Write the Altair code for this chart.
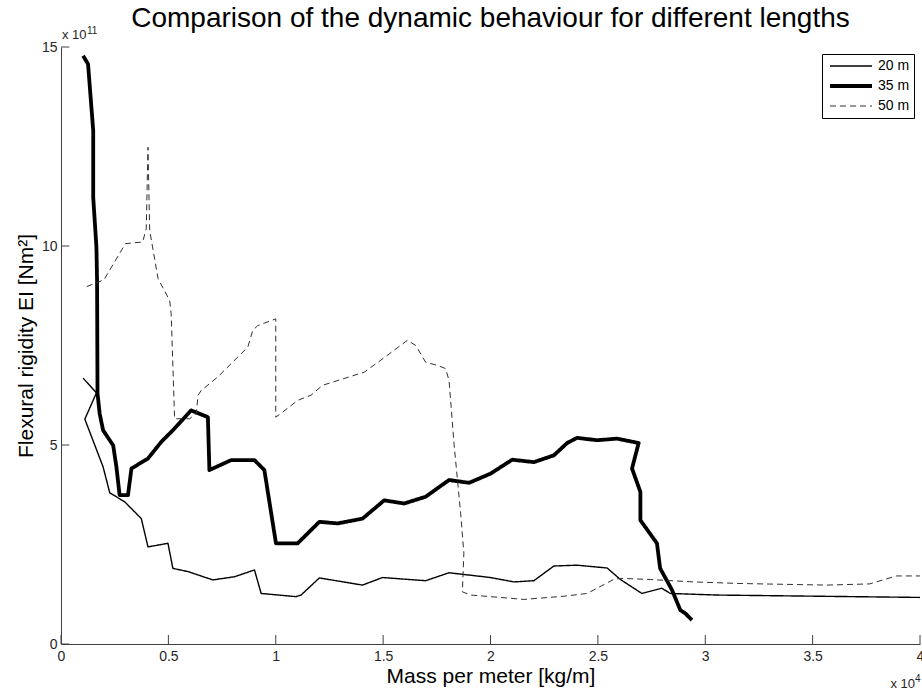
import altair as alt
import pandas as pd

# ---------------- data (x in 1e4 kg/m, y in 1e11 Nm^2) ----------------
series_names = ["20 m", "35 m", "50 m"]

x20 = [0.103, 0.165, 0.111, 0.196, 0.227, 0.297, 0.374, 0.405, 0.498, 0.521,
       0.591, 0.707, 0.808, 0.901, 0.932, 1.094, 1.118, 1.203, 1.404, 1.497,
       1.698, 1.807, 2.0, 2.109, 2.202, 2.295, 2.403, 2.543, 2.605, 2.705,
       2.798, 2.837, 3.054, 4.0]
y20 = [6.68, 6.31, 5.65, 4.45, 3.80, 3.57, 3.15, 2.44, 2.53, 1.90,
       1.82, 1.61, 1.69, 1.86, 1.27, 1.19, 1.23, 1.66, 1.48, 1.67,
       1.59, 1.79, 1.67, 1.56, 1.59, 1.96, 1.98, 1.91, 1.62, 1.27,
       1.40, 1.27, 1.23, 1.17]

x35 = [0.103, 0.126, 0.150, 0.150, 0.165, 0.168, 0.17, 0.18, 0.196, 0.243,
       0.258, 0.273, 0.312, 0.328, 0.405, 0.467, 0.521, 0.606, 0.684, 0.691,
       0.792, 0.901, 0.947, 1.001, 1.102, 1.164, 1.203, 1.288, 1.404, 1.505,
       1.598, 1.698, 1.807, 1.9, 2.0, 2.101, 2.202, 2.295, 2.357, 2.403,
       2.496, 2.589, 2.69, 2.659, 2.698, 2.698, 2.775, 2.79, 2.845, 2.884,
       2.907, 2.938]
y35 = [14.78, 14.57, 12.90, 11.22, 9.97, 9.10, 6.30, 5.79, 5.37, 4.99,
       4.45, 3.74, 3.74, 4.41, 4.66, 5.08, 5.37, 5.87, 5.70, 4.37,
       4.62, 4.62, 4.37, 2.53, 2.53, 2.86, 3.07, 3.03, 3.15, 3.61,
       3.53, 3.70, 4.12, 4.05, 4.28, 4.63, 4.57, 4.74, 5.05, 5.18,
       5.12, 5.16, 5.05, 4.41, 3.82, 3.11, 2.53, 1.90, 1.36, 0.85,
       0.77, 0.60]

x50 = [0.12, 0.20, 0.30, 0.38, 0.397, 0.405, 0.413, 0.452, 0.506, 0.513,
       0.529, 0.599, 0.63, 0.638, 0.653, 0.73, 0.87, 0.893, 0.916, 1.0,
       1.0, 1.033, 1.102, 1.164, 1.218, 1.412, 1.489, 1.613, 1.652, 1.698,
       1.753, 1.791, 1.807, 1.83, 1.861, 1.876, 1.869, 1.908, 2.0, 2.155,
       2.341, 2.45, 2.573, 2.605, 2.744, 2.945, 3.162, 3.565, 3.766, 3.89,
       4.0]
y50 = [8.98, 9.15, 10.06, 10.10, 10.43, 12.48, 10.39, 9.18, 8.63, 8.30,
       5.66, 5.66, 5.79, 6.25, 6.37, 6.71, 7.46, 7.88, 8.00, 8.17,
       5.70, 5.83, 6.12, 6.25, 6.50, 6.83, 7.13, 7.63, 7.50, 7.08,
       7.00, 6.92, 6.62, 5.04, 3.28, 2.28, 1.31, 1.23, 1.19, 1.12,
       1.20, 1.27, 1.62, 1.65, 1.62, 1.56, 1.52, 1.48, 1.51, 1.71,
       1.71]

x_tick_values = [0, 0.5, 1, 1.5, 2, 2.5, 3, 3.5, 4]
y_tick_values = [0, 5, 10, 15]
exponent_base = ["x 10"]
y_exponent_power = ["11"]
x_exponent_power = ["4"]
title_text = ["Comparison of the dynamic behaviour for different lengths"]

# ---------------- build table ----------------
rows = []
for name, xs, ys in ((series_names[0], x20, y20),
                     (series_names[1], x35, y35),
                     (series_names[2], x50, y50)):
    for i, (xv, yv) in enumerate(zip(xs, ys)):
        rows.append({"series": name, "mass": xv, "rigidity": yv, "step": i})
df = pd.DataFrame(rows)

FONT = "Liberation Sans"
AXIS_GREY = "#404040"
LABEL_GREY = "#262626"

x_scale = alt.Scale(domain=[0, 4], nice=False, zero=False)
y_scale = alt.Scale(domain=[0, 15], nice=False, zero=False)

x_axis = alt.Axis(values=x_tick_values, format="~g",
                  title="Mass per meter [kg/m]",
                  labelPadding=5, titlePadding=2, labelFlush=False)
y_axis = alt.Axis(values=y_tick_values, format="~g",
                  title="Flexural rigidity EI [Nm\u00b2]",
                  labelPadding=4, titlePadding=5)

legend = alt.Legend(
    title=None, orient="none", legendX=761, legendY=7,
    symbolType="stroke", symbolSize=1764, clipHeight=16,
    padding=4, rowPadding=4, labelOffset=4, symbolOffset=2,
    labelFont=FONT, labelFontSize=14, labelColor="black",
    strokeColor="black", fillColor="white",
)

lines = alt.Chart(df).mark_line(strokeJoin="round").encode(
    x=alt.X("mass:Q", scale=x_scale, axis=x_axis),
    y=alt.Y("rigidity:Q", scale=y_scale, axis=y_axis),
    order=alt.Order("step:Q"),
    color=alt.Color("series:N",
                    scale=alt.Scale(domain=series_names,
                                    range=["#000000", "#000000", "#303030"]),
                    legend=legend),
    strokeDash=alt.StrokeDash("series:N",
                              scale=alt.Scale(domain=series_names,
                                              range=[[1, 0], [1, 0], [6, 4]]),
                              legend=legend),
    strokeWidth=alt.StrokeWidth("series:N",
                                scale=alt.Scale(type="ordinal",
                                                domain=series_names,
                                                range=[1.4, 3.8, 1.0]),
                                legend=legend),
)

# inward ticks (MATLAB style)
x_ticks = alt.Chart(pd.DataFrame({"tick": x_tick_values})).mark_rule(
    color=AXIS_GREY, strokeWidth=1
).encode(
    x=alt.X("tick:Q", scale=x_scale, axis=x_axis),
    y=alt.YDatum(0, axis=y_axis),
    y2=alt.Y2Datum(0.226),
)
y_ticks = alt.Chart(pd.DataFrame({"tick": y_tick_values})).mark_rule(
    color=AXIS_GREY, strokeWidth=1
).encode(
    y=alt.Y("tick:Q", scale=y_scale, axis=y_axis),
    x=alt.XDatum(0, axis=x_axis),
    x2=alt.X2Datum(0.0387),
)

# exponent labels ("x 10^11" above y axis, "x 10^4" under x axis end)
y_exp_base = alt.Chart(pd.DataFrame({"label": exponent_base})).mark_text(
    align="left", baseline="alphabetic", dx=1, dy=-8,
    font=FONT, fontSize=13, color=LABEL_GREY
).encode(x=alt.XDatum(0, axis=x_axis), y=alt.YDatum(15, axis=y_axis), text="label:N")
y_exp_pow = alt.Chart(pd.DataFrame({"label": y_exponent_power})).mark_text(
    align="left", baseline="alphabetic", dx=26, dy=-13,
    font=FONT, fontSize=10, color=LABEL_GREY
).encode(x=alt.XDatum(0, axis=x_axis), y=alt.YDatum(15, axis=y_axis), text="label:N")

x_exp_base = alt.Chart(pd.DataFrame({"label": exponent_base})).mark_text(
    align="right", baseline="alphabetic", dx=-5, dy=44,
    font=FONT, fontSize=13, color=LABEL_GREY
).encode(x=alt.XDatum(4, axis=x_axis), y=alt.YDatum(0, axis=y_axis), text="label:N")
x_exp_pow = alt.Chart(pd.DataFrame({"label": x_exponent_power})).mark_text(
    align="left", baseline="alphabetic", dx=-5, dy=38,
    font=FONT, fontSize=10, color=LABEL_GREY
).encode(x=alt.XDatum(4, axis=x_axis), y=alt.YDatum(0, axis=y_axis), text="label:N")

title = alt.Chart(pd.DataFrame({"label": title_text})).mark_text(
    align="center", baseline="alphabetic", dy=-20,
    font=FONT, fontSize=28, color="black"
).encode(x=alt.XDatum(2, axis=x_axis), y=alt.YDatum(15, axis=y_axis), text="label:N")

chart = alt.layer(
    lines, x_ticks, y_ticks, y_exp_base, y_exp_pow, x_exp_base, x_exp_pow, title
).properties(
    width=859, height=597,
    padding={"left": 61, "top": 47, "right": 2, "bottom": 46},
    autosize=alt.AutoSizeParams(type="none"),
    background="white",
).configure_view(stroke=None).configure_axis(
    grid=False, ticks=False, domainColor=AXIS_GREY, domainWidth=1,
    labelFont=FONT, labelFontSize=14, labelColor=LABEL_GREY,
    titleFont=FONT, titleFontSize=21, titleFontWeight="normal", titleColor="black",
)

chart.save("out.html", embed_options={"renderer": "svg", "actions": False})
